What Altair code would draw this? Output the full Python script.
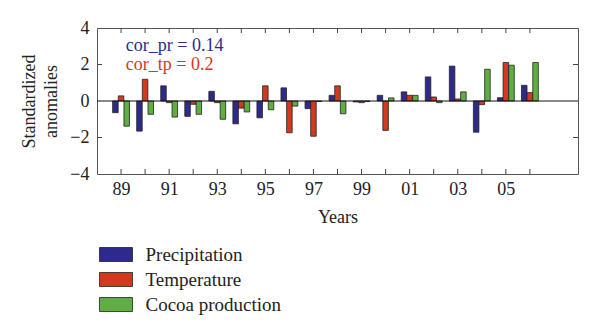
import altair as alt
import pandas as pd

years = list(range(1989, 2007))
precipitation = [-0.64, -1.65, 0.83, -0.84, 0.53, -1.25, -0.92, 0.72, -0.42, 0.31,
                 -0.05, 0.31, 0.50, 1.32, 1.91, -1.71, 0.18, 0.86]
temperature = [0.28, 1.19, -0.09, -0.18, -0.09, -0.39, 0.83, -1.74, -1.93, 0.83,
               -0.09, -1.61, 0.31, 0.22, 0.11, -0.20, 2.11, 0.46]
cocoa = [-1.38, -0.73, -0.88, -0.73, -1.00, -0.60, -0.48, -0.28, -0.03, -0.70,
         -0.03, 0.17, 0.31, -0.09, 0.50, 1.74, 1.96, 2.11]

series_names = ["Precipitation", "Temperature", "Cocoa production"]
series_colors = ["#2e2a8c", "#d3391f", "#5fae45"]
tick_years = list(range(1989, 2007))
label_years = list(range(1989, 2006, 2))
y_ticks = [-4, -2, 0, 2, 4]
y_inner_ticks = [-2, 2]

notes = ["cor_pr = 0.14", "cor_tp = 0.2"]
note_colors = ["#2e2a8c", "#d3391f"]
note_x = [1989.2, 1989.2]
note_y = [2.72, 1.72]

FONT = "Liberation Serif"
X_MIN, X_MAX = 1988, 2008
Y_MIN, Y_MAX = -4, 4

rows = []
for i, (name, vals) in enumerate(zip(series_names, [precipitation, temperature, cocoa])):
    for yr, v in zip(years, vals):
        rows.append({"year": yr, "series": name, "idx": i, "value": v})
df = pd.DataFrame(rows)

xscale = alt.Scale(domain=[X_MIN, X_MAX], nice=False, zero=False)
yscale = alt.Scale(domain=[Y_MIN, Y_MAX], nice=False)

bars = alt.Chart(df).transform_calculate(
    x0="datum.year + (datum.idx - 1) * 0.235 - 0.115",
    x1="datum.year + (datum.idx - 1) * 0.235 + 0.115",
    base="0",
).mark_bar(stroke="#222", strokeWidth=0.8, opacity=1).encode(
    x=alt.X("x0:Q", scale=xscale,
            axis=alt.Axis(orient="bottom", values=label_years, ticks=False, domain=False,
                          grid=False, labelExpr="substring(toString(datum.value), 2)",
                          labelFont=FONT, labelFontSize=18, labelColor="#222",
                          labelPadding=6, labelOverlap=False, title="Years", titleFont=FONT,
                          titleFontSize=18, titleFontWeight="normal", titleColor="#222",
                          titlePadding=10)),
    x2="x1:Q",
    y=alt.Y("value:Q", scale=yscale, stack=None,
            axis=alt.Axis(orient="left", values=y_ticks, ticks=False, domain=False,
                          grid=False, labelFont=FONT, labelFontSize=18, labelColor="#222",
                          labelPadding=8, labelOverlap=False, labelFlush=False,
                          labelBound=False,
                          title=["Standardized", "anomalies"],
                          titleFont=FONT, titleFontSize=18, titleFontWeight="normal",
                          titleColor="#222", titlePadding=9, titleLineHeight=22)),
    y2="base:Q",
    color=alt.Color("series:N", scale=alt.Scale(domain=series_names, range=series_colors),
                    legend=alt.Legend(orient="none", legendX=9.5, legendY=217, title=None,
                                      direction="vertical",
                                      symbolType="M-2.36,-1H2.36V1H-2.36Z", symbolSize=196,
                                      symbolStrokeColor="#222", symbolStrokeWidth=0.8,
                                      symbolOpacity=1,
                                      labelFont=FONT, labelFontSize=19, labelColor="#222",
                                      labelOffset=20, rowPadding=5, padding=0)),
)

zero = alt.Chart(pd.DataFrame({"v": [0]})).mark_rule(color="#111", strokeWidth=1).encode(
    x=alt.XDatum(X_MIN, type="quantitative", scale=xscale, axis=None),
    x2=alt.X2Datum(X_MAX),
    y=alt.YDatum(0, type="quantitative", scale=yscale, axis=None),
)

tick_color = "#444"
xt = pd.DataFrame({"year": tick_years})
yt = pd.DataFrame({"v": y_inner_ticks})

bottom_ticks = alt.Chart(xt).mark_rule(color=tick_color, y2Offset=-5).encode(
    x=alt.X("year:Q", scale=xscale, axis=None),
    y=alt.YDatum(Y_MIN, axis=None), y2=alt.Y2Datum(Y_MIN))
top_ticks = alt.Chart(xt).mark_rule(color=tick_color, y2Offset=5).encode(
    x=alt.X("year:Q", scale=xscale, axis=None),
    y=alt.YDatum(Y_MAX, axis=None), y2=alt.Y2Datum(Y_MAX))
left_ticks = alt.Chart(yt).mark_rule(color=tick_color, x2Offset=5).encode(
    y=alt.Y("v:Q", scale=yscale, axis=None),
    x=alt.XDatum(X_MIN, axis=None), x2=alt.X2Datum(X_MIN))
right_ticks = alt.Chart(yt).mark_rule(color=tick_color, x2Offset=-5).encode(
    y=alt.Y("v:Q", scale=yscale, axis=None),
    x=alt.XDatum(X_MAX, axis=None), x2=alt.X2Datum(X_MAX))

notes_df = pd.DataFrame({"t": notes, "x": note_x, "y": note_y})
note_layers = []
for k in range(len(notes)):
    note_layers.append(
        alt.Chart(notes_df.iloc[[k]]).mark_text(
            align="left", baseline="alphabetic", font=FONT, fontSize=18, color=note_colors[k]
        ).encode(
            x=alt.X("x:Q", scale=xscale, axis=None),
            y=alt.Y("y:Q", scale=yscale, axis=None),
            text="t:N",
        )
    )

chart = alt.layer(bars, zero, bottom_ticks, top_ticks, left_ticks, right_ticks,
                  *note_layers).resolve_axis(
    x="independent", y="independent"
).properties(
    width=481, height=146,
    autosize=alt.AutoSizeParams(type="none"),
    padding={"left": 97, "top": 28, "right": 22, "bottom": 162},
    background="white",
).configure_view(stroke="#555", strokeWidth=1)

chart.save("out.html", embed_options={"renderer": "svg", "actions": False})
